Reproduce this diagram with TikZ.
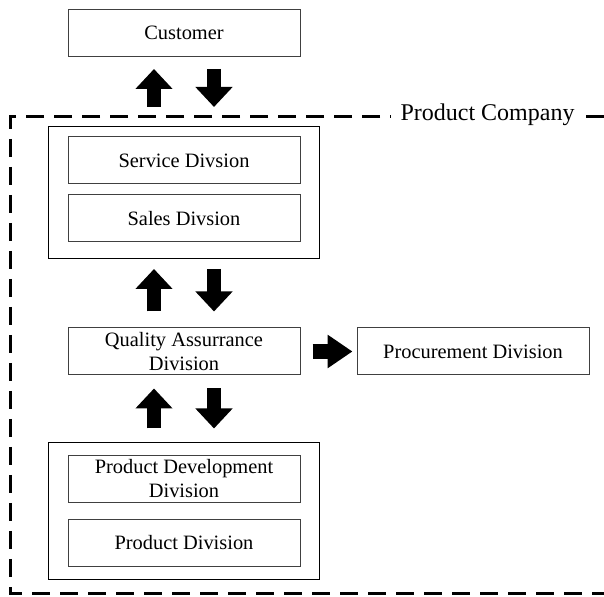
\documentclass[tikz,border=0pt]{standalone}
\usepackage{fontspec}
\setmainfont{Liberation Serif}
\usetikzlibrary{arrows.meta,fit}

\begin{document}
\begin{tikzpicture}[auto,
  div node/.style={rectangle,draw=black!75,line width=0.5pt,minimum width=116pt,
    minimum height=23.5pt,inner sep=0pt,align=center,font=\fontsize{10.2}{12}\selectfont},
  group node/.style={rectangle,draw,line width=0.5pt,inner xsep=9.5pt},
  flow/.style={line width=7pt,-{Triangle[length=10pt,width=18pt]}},
  frame/.style={line width=1.5pt,dash pattern=on 9pt off 5pt}]

  \useasboundingbox (0,0) rectangle (302pt,-298.5pt);

  \node[div node] (customer) at (92pt,-16.5pt) {Customer};
  \node[div node] (service) [node distance=63.75pt,below of=customer] {Service Divsion};
  \node[div node] (sales) [node distance=29pt,below of=service] {Sales Divsion};
  \node[div node] (quality) [node distance=66.5pt,below of=sales] {Quality Assurrance\\Division};
  \node[div node] (procure) [node distance=144.5pt,right of=quality] {Procurement Division};
  \node[div node] (develop) [node distance=63.75pt,below of=quality] {Product Development\\Division};
  \node[div node] (product) [node distance=32pt,below of=develop] {Product Division};

  \node[group node,inner ysep=6.5pt,fit=(service)(sales),yshift=-1.5pt] (front) {};
  \node[group node,inner ysep=6pt,fit=(develop)(product)] (back) {};

  % company border
  \draw[frame] (302pt,-58.5pt) -- (5pt,-58.5pt) -- (5pt,-296.5pt) -- (302pt,-296.5pt);
  \node[fill=white,inner xsep=5pt,anchor=base,font=\fontsize{12}{14}\selectfont]
    (company) at (243.75pt,-60.5pt) {Product Company};

  \path
  ([xshift=-15pt]front.north) edge[flow,shorten <=9.5pt,shorten >=6pt] ([xshift=-15pt]customer.south)
  ([xshift=15pt]customer.south) edge[flow,shorten <=6pt,shorten >=9.5pt] ([xshift=15pt]front.north)
  ([xshift=-15pt]quality.north) edge[flow,shorten <=8pt,shorten >=5pt] ([xshift=-15pt]front.south)
  ([xshift=15pt]front.south) edge[flow,shorten <=5pt,shorten >=8pt] ([xshift=15pt]quality.north)
  ([xshift=-15pt]back.north) edge[flow,shorten <=7pt,shorten >=6.5pt] ([xshift=-15pt]quality.south)
  ([xshift=15pt]quality.south) edge[flow,shorten <=6.5pt,shorten >=7pt] ([xshift=15pt]back.north)
  (quality.east) edge[flow,line width=7.5pt,-{Triangle[length=12.5pt,width=16pt]},
    shorten <=6pt,shorten >=2pt] (procure.west);
\end{tikzpicture}
\end{document}
